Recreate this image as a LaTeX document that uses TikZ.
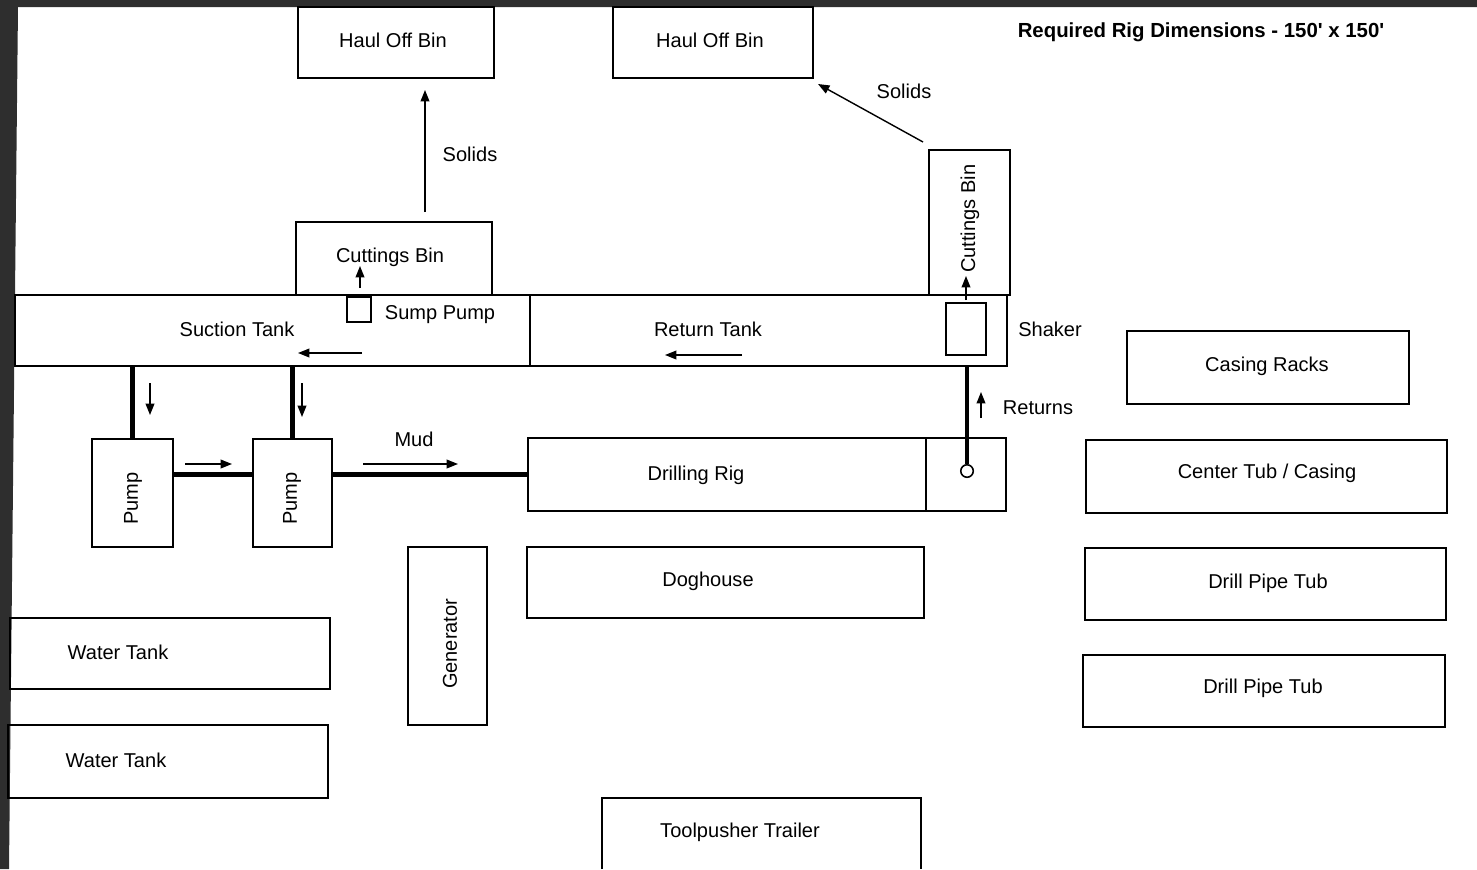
\documentclass[tikz,border=0pt]{standalone}
\usepackage{fontspec}
\setmainfont{Liberation Sans}[Ligatures=TeXOff]
\usetikzlibrary{fit,arrows.meta}

\begin{document}
\begin{tikzpicture}[x=0.02cm, y=-0.02cm,
	every node/.style={font=\fontsize{11.4}{13}\selectfont, yshift=-1pt},
	box/.style={draw, line width=0.9pt, inner sep=0pt, yshift=1pt},
	upright/.style={rotate=90},
	pipe/.style={line width=2.3pt},
	flow/.style={line width=0.8pt, -{Triangle[length=6.5pt,width=5pt]}}]
	\useasboundingbox (0,0) rectangle (1477,869);
	% scanned frame
	\fill[black!82] (0,0) -- (1477,0) -- (1477,7) -- (18,7) -- (9,869) -- (0,869) -- cycle;
	\node[font=\bfseries\fontsize{11.6}{13}\selectfont] (title) at (1201,31) {Required Rig Dimensions - 150' x 150'};

	% bins
	\node[box, fit={(298,7) (494,78)}] (haulA) {};
	\node (haulAt) at (393,39) {Haul Off Bin};
	\node[box, fit={(613,7) (813,78)}] (haulB) {};
	\node (haulBt) at (710,39) {Haul Off Bin};
	\node[box, fit={(296,222) (492,295)}] (cutA) {};
	\node (cutAt) at (390,256) {Cuttings Bin};
	\node[box, fit={(929,150) (1010,295)}] (cutB) {};
	\node[upright] (cutBt) at (970,217) {Cuttings Bin};

	% tanks
	\node[box, fit={(15,295) (530,366)}] (suction) {};
	\node (suctiont) at (237,328) {Suction Tank};
	\node[box, fit={(530,295) (1007,366)}] (return) {};
	\node (returnt) at (708,328) {Return Tank};
	\node[box, fit={(347,297) (371,322)}] (sump) {};
	\node (sumpt) at (440,313) {Sump Pump};
	\node[box, fit={(946,303) (986,355)}] (shaker) {};
	\node (shakert) at (1050,328) {Shaker};

	% rig and pumps
	\node[box, fit={(528,438) (926,511)}] (rig) {};
	\node (rigt) at (696,474) {Drilling Rig};
	\node[box, fit={(926,438) (1006,511)}] (cellar) {};
	\node[circle, draw, line width=0.9pt, minimum size=0.25cm, inner sep=0pt, yshift=1pt] (well) at (967,471) {};
	\node[box, fit={(92,439) (173,547)}] (pumpA) {};
	\node[upright] (pumpAt) at (133,497) {Pump};
	\node[box, fit={(253,439) (332,547)}] (pumpB) {};
	\node[upright] (pumpBt) at (292,497) {Pump};
	\node[box, fit={(408,547) (487,725)}] (gen) {};
	\node[upright] (gent) at (450,642) {Generator};
	\node[box, fit={(527,547) (924,618)}] (dog) {};
	\node (dogt) at (708,580) {Doghouse};

	% pipe racks and tubs
	\node[box, fit={(1127,331) (1409,404)}] (racks) {};
	\node (rackst) at (1267,365) {Casing Racks};
	\node[box, fit={(1086,440) (1447,513)}] (center) {};
	\node (centert) at (1267,472) {Center Tub / Casing};
	\node[box, fit={(1085,548) (1446,620)}] (tubA) {};
	\node (tubAt) at (1268,582) {Drill Pipe Tub};
	\node[box, fit={(1083,655) (1445,727)}] (tubB) {};
	\node (tubBt) at (1263,687) {Drill Pipe Tub};

	% water and trailer
	\node[box, fit={(10,618) (330,689)}] (waterA) {};
	\node (waterAt) at (118,651) {Water Tank};
	\node[box, fit={(8,725) (328,798)}] (waterB) {};
	\node (waterBt) at (116,759) {Water Tank};
	\draw[line width=0.9pt] (602,869) -- (602,798) -- (921,798) -- (921,869);
	\node (trailert) at (740,831) {Toolpusher Trailer};

	% lines
	\draw[pipe] (pumpA.north) -- (pumpA.north |- suction.south);
	\draw[pipe] (pumpB.north) -- (pumpB.north |- suction.south);
	\draw[pipe] (pumpA.east |- rig.west) -- (pumpB.west |- rig.west);
	\draw[pipe] (pumpB.east |- rig.west) -- (rig.west);
	\draw[pipe] (well.north) -- (well.north |- return.south);

	% flow arrows
	\draw[flow] (425,212) -- (425,90);
	\node (solidsAt) at (470,153) {Solids};
	\draw[flow] (923,142) -- (818,84);
	\node (solidsBt) at (904,90) {Solids};
	\draw[flow] (360,288) -- (360,266);
	\draw[flow] (966,300) -- (966,276);
	\draw[flow] (362,353) -- (298,353);
	\draw[flow] (742,355) -- (665,355);
	\draw[flow] (150,383) -- (150,415);
	\draw[flow] (302,383) -- (302,417);
	\draw[flow] (185,464) -- (232,464);
	\draw[flow] (363,464) -- (458,464);
	\node (mudt) at (414,438) {Mud};
	\draw[flow] (981,418) -- (981,392);
	\node (returnst) at (1038,406) {Returns};
\end{tikzpicture}
\end{document}
